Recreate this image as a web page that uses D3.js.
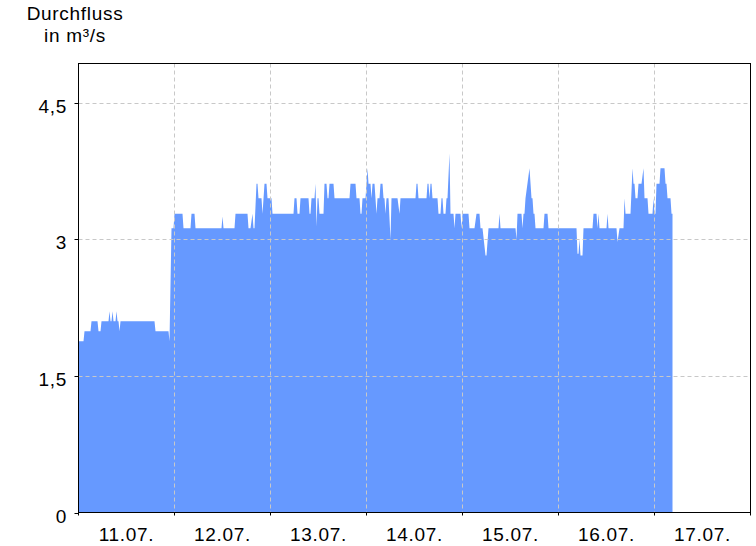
<!DOCTYPE html>
<html>
<head>
<meta charset="utf-8">
<script src="https://cdn.jsdelivr.net/npm/d3@7"></script>
<style>
  html, body { margin: 0; padding: 0; background: #fff; }
  svg { display: block; }
  text { font-family: "Liberation Sans", Arial, sans-serif; fill: #000; }
</style>
</head>
<body>
<svg id="chart" width="756" height="546"></svg>
<script>
// ---- data (hours since 11.07. 00:00, flow in m³/s) ----
const startDate = Date.UTC(2021, 6, 11, 0, 0);
const dayLabels = ["11.07.", "12.07.", "13.07.", "14.07.", "15.07.", "16.07.", "17.07."];
const yTickValues = [0, 1.5, 3, 4.5];
const yTickLabels = ["0", "1,5", "3", "4,5"];
const titleLines = ["Durchfluss", "in m³/s"];

// segments of constant measured level: [startHour, endHour, value]
const flowSegments = [
  [0,1.25,1.88],[1.5,3,1.99],[3.25,4.75,2.10],[5,5.5,1.99],[5.75,7.5,2.10],
  [7.75,7.75,2.21],[8,8.25,2.10],[8.5,8.5,2.21],[8.75,9.25,2.10],[9.5,9.5,2.21],
  [9.75,10,2.10],[10.25,10.25,1.99],[10.5,19,2.10],[19.25,22.5,1.99],[22.75,22.75,1.88],
  [23.25,23.75,3.12],[24,26,3.28],[26.25,28,3.12],[28.25,29,3.28],[29.25,35.75,3.12],
  [36,36,3.25],[36.25,39,3.12],[39.25,42.25,3.28],[42.5,43,3.12],[43.5,43.5,3.28],
  [43.75,44,3.12],[44.5,44.75,3.61],[45,45.75,3.45],[46,46,3.28],[46.5,47,3.61],
  [47.25,48.25,3.45],[48.5,53.75,3.28],[54,54.5,3.45],[54.75,55.25,3.28],[55.5,57.5,3.45],
  [57.75,58,3.28],[58.25,59,3.45],[59.25,59.25,3.61],[59.5,59.5,3.14],[59.75,60,3.45],
  [60.25,61.25,3.28],[61.5,62,3.61],[62.25,62.5,3.45],[62.75,63.75,3.61],[64,67.75,3.45],
  [68,69.25,3.61],[69.5,70.25,3.45],[70.5,70.75,3.28],[71,71.75,3.45],[72.25,72.25,3.78],
  [72.5,73,3.61],[73.25,73.25,3.45],[73.5,74,3.61],[74.5,74.5,3.28],[74.75,75.25,3.45],
  [75.5,76,3.61],[76.25,76.5,3.45],[76.75,76.75,3.28],[77,77.5,3.45],[78,78,3.0],
  [78.25,79.75,3.45],[80.25,80.25,3.28],[80.5,84.25,3.45],[84.5,84.75,3.61],[85,87,3.45],
  [87.25,87.5,3.61],[87.75,87.75,3.45],[88,88.25,3.61],[88.5,89.75,3.45],[90,90.5,3.28],
  [90.75,91,3.45],[91.25,91.75,3.28],[92,92.25,3.45],[92.75,92.75,3.94],[93,93.75,3.28],
  [94,94,3.12],[94.25,95.5,3.28],[95.75,95.75,3.12],[96,97.5,3.28],[97.75,99,3.12],
  [99.5,100.25,3.28],[100.5,101,3.12],[101.75,102,2.82],[102.5,105,3.12],[105.25,105.25,3.28],
  [105.5,109.25,3.12],[109.5,109.5,3.0],[109.75,110.75,3.28],[111,111,3.12],[111.25,111.5,3.28],
  [111.75,111.75,3.45],[112.75,112.75,3.78],[113.25,113.5,3.45],[113.75,114,3.28],[114.25,116.25,3.12],
  [116.5,117.25,3.28],[117.5,124.5,3.12],[124.75,125,2.84],[125.25,125.25,3.0],[125.5,126,2.82],
  [126.25,128.5,3.12],[128.75,129.5,3.28],[129.75,129.75,3.12],[130,130,3.28],[130.25,132,3.12],
  [132.25,132.25,3.28],[132.5,134.5,3.12],[134.75,134.75,2.97],[135.25,136.25,3.12],[136.5,136.5,3.45],
  [136.75,138,3.28],[138.5,138.5,3.78],[138.75,139,3.61],[139.25,139.75,3.45],[140,140.75,3.61],
  [141.25,141.25,3.78],[141.5,142.25,3.45],[142.5,143.5,3.28],[143.75,143.75,3.45],[144,144.25,3.28],
  [144.5,145.25,3.61],[145.5,146.5,3.78],[146.75,147,3.61],[147.25,148,3.45],[148.25,148.5,3.28]
];

// ---- build ----
const HOUR = 3600 * 1000;
const toDate = h => new Date(startDate + h * HOUR);
const points = [];
flowSegments.forEach(([a, b, v]) => {
  points.push({ t: toDate(a), v });
  if (b > a) points.push({ t: toDate(b), v });
});

const svg = d3.select("#chart");
const pLeft = 78.5, pRight = 750.5, pTop = 63.5, pBottom = 512.5;
const FS = 19, LS = 0.7;

const x = d3.scaleUtc().domain([toDate(0), toDate(7 * 24)]).range([pLeft, pRight]);
const y = d3.scaleLinear().domain([0, 4.929]).range([pBottom, pTop]);

// area
const area = d3.area()
  .x(d => x(d.t))
  .y0(y(0))
  .y1(d => y(d.v))
  .curve(d3.curveLinear);

svg.append("path")
  .datum(points)
  .attr("d", area)
  .attr("fill", "#6699ff");

// grid (drawn over the area)
const grid = svg.append("g").attr("stroke", "#c8c8c8").attr("stroke-width", 1)
  .attr("stroke-dasharray", "4,3").attr("fill", "none");
yTickValues.filter(v => v > 0).forEach(v => {
  const yy = Math.round(y(v)) + 0.5;
  grid.append("line").attr("x1", pLeft).attr("x2", pRight).attr("y1", yy).attr("y2", yy);
});
d3.range(1, 7).forEach(d => {
  const xx = x(toDate(d * 24));
  grid.append("line").attr("x1", xx).attr("x2", xx).attr("y1", pTop).attr("y2", pBottom);
});

// frame
svg.append("rect").attr("x", pLeft).attr("y", pTop)
  .attr("width", pRight - pLeft).attr("height", pBottom - pTop)
  .attr("fill", "none").attr("stroke", "#000").attr("stroke-width", 1);

// y axis ticks + labels
const yAxis = svg.append("g");
yTickValues.forEach((v, i) => {
  const yy = Math.round(y(v)) + 0.5;
  yAxis.append("line").attr("x1", pLeft - 4).attr("x2", pLeft).attr("y1", yy).attr("y2", yy)
    .attr("stroke", "#000");
  yAxis.append("text").attr("x", 67).attr("y", yy + 9.8)
    .attr("text-anchor", "end").attr("font-size", FS).attr("letter-spacing", LS)
    .text(yTickLabels[i]);
});

// x axis ticks + labels
const xAxis = svg.append("g");
d3.range(0, 8).forEach(d => {
  const xx = x(toDate(d * 24));
  xAxis.append("line").attr("x1", xx).attr("x2", xx).attr("y1", pBottom).attr("y2", pBottom + 3)
    .attr("stroke", "#000");
});
dayLabels.forEach((lab, d) => {
  xAxis.append("text").attr("x", x(toDate(d * 24 + 12))).attr("y", 541)
    .attr("text-anchor", "middle").attr("font-size", FS).attr("letter-spacing", LS)
    .text(lab);
});

// title
titleLines.forEach((t, i) => {
  svg.append("text").attr("x", 75).attr("y", 20 + i * 21.5)
    .attr("text-anchor", "middle").attr("font-size", FS).attr("letter-spacing", LS)
    .text(t);
});
</script>
</body>
</html>
